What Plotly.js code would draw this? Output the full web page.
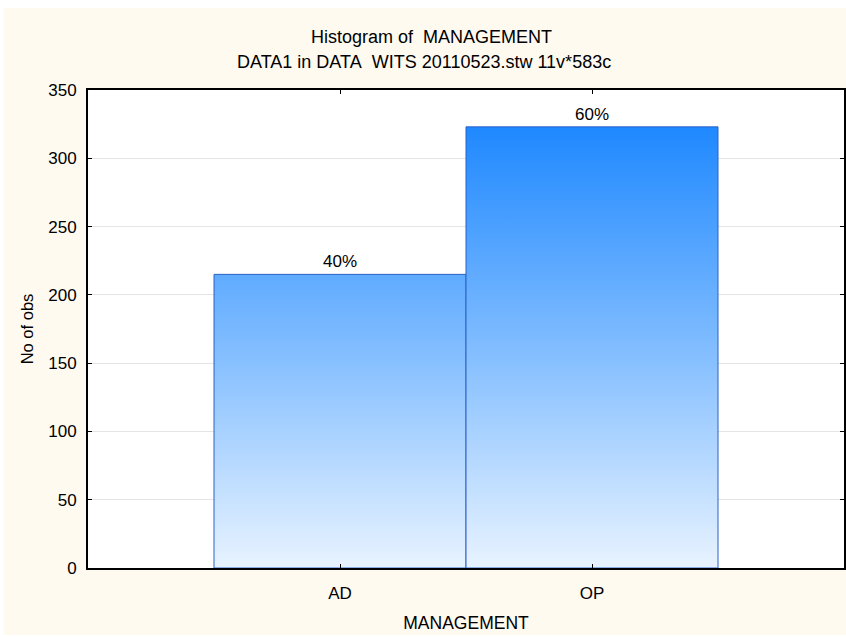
<!DOCTYPE html>
<html>
<head>
<meta charset="utf-8">
<script src="https://cdn.plot.ly/plotly-3.0.1.min.js"></script>
<style>
  html, body { margin: 0; padding: 0; background: #ffffff; width: 846px; height: 637px; overflow: hidden; }
  #chart { position: absolute; left: 4px; top: 8px; width: 842px; height: 627px; }
</style>
</head>
<body>
<div id="chart"></div>
<script>
// ---- data ----
const categories = ['AD', 'OP'];
const counts = [215, 323];
const pctLabels = ['40%', '60%'];
const yTickVals = [0, 50, 100, 150, 200, 250, 300, 350];
const titleLine1 = 'Histogram of&nbsp;&nbsp;MANAGEMENT';
const titleLine2 = 'DATA1 in DATA&nbsp;&nbsp;WITS 20110523.stw 11v*583c';
const xTitle = 'MANAGEMENT';
const yTitle = 'No of obs';

const FONT = 'Liberation Sans, Arial, sans-serif';

const trace = {
  type: 'bar',
  x: categories,
  y: counts,
  width: 1,
  text: pctLabels,
  textposition: 'outside',
  cliponaxis: false,
  textfont: { family: FONT, size: 17, color: '#000000' },
  marker: { color: '#5aa5ff', line: { color: '#2a62c8', width: 1 } },
  hoverinfo: 'none'
};

const layout = {
  width: 842,
  height: 627,
  margin: { l: 84, r: 2, t: 82, b: 67, pad: 0 },
  paper_bgcolor: '#fffaf0',
  plot_bgcolor: '#ffffff',
  bargap: 0,
  showlegend: false,
  font: { family: FONT, size: 17, color: '#000000' },
  xaxis: {
    type: 'category',
    range: [-1, 2],
    showline: true, linecolor: '#000000', linewidth: 2, mirror: 'ticks',
    ticks: 'inside', ticklen: 4, tickwidth: 1, tickcolor: '#000000',
    showgrid: false, zeroline: false,
    tickfont: { family: FONT, size: 17, color: '#000000' },
    ticklabelstandoff: 9,
    title: { text: xTitle, font: { family: FONT, size: 17.5, color: '#000000' }, standoff: 14 },
    automargin: false,
    fixedrange: true
  },
  yaxis: {
    range: [0, 350],
    tickvals: yTickVals,
    showline: true, linecolor: '#000000', linewidth: 2, mirror: 'ticks',
    ticks: 'inside', ticklen: 4, tickwidth: 1, tickcolor: '#000000',
    showgrid: true, gridcolor: '#e4e4e4', gridwidth: 1,
    zeroline: false,
    tickfont: { family: FONT, size: 17, color: '#000000' },
    ticklabelstandoff: 6,
    title: { text: yTitle, font: { family: FONT, size: 16.5, color: '#000000' }, standoff: 10 },
    automargin: false,
    fixedrange: true
  },
  annotations: [
    { text: titleLine1, xref: 'paper', yref: 'paper', x: 0.455, y: 1.11,
      xanchor: 'center', yanchor: 'middle', showarrow: false,
      font: { family: FONT, size: 18, color: '#000000' } },
    { text: titleLine2, xref: 'paper', yref: 'paper', x: 0.444, y: 1.0595,
      xanchor: 'center', yanchor: 'middle', showarrow: false,
      font: { family: FONT, size: 18, color: '#000000' } }
  ]
};

Plotly.newPlot('chart', [trace], layout, { displayModeBar: false, staticPlot: true }).then(function (gd) {
  // vertical blue gradient fill, in plot-area coordinates
  const H = gd._fullLayout._size.h;
  const svgNS = 'http://www.w3.org/2000/svg';
  const mainSvg = gd.querySelector('svg.main-svg');
  let defs = mainSvg.querySelector('defs');
  if (!defs) { defs = document.createElementNS(svgNS, 'defs'); mainSvg.insertBefore(defs, mainSvg.firstChild); }
  const grad = document.createElementNS(svgNS, 'linearGradient');
  grad.setAttribute('id', 'barGrad');
  grad.setAttribute('gradientUnits', 'userSpaceOnUse');
  grad.setAttribute('x1', '0'); grad.setAttribute('x2', '0');
  grad.setAttribute('y1', '0'); grad.setAttribute('y2', String(H));
  [['0', '#0f80ff'], ['0.5', '#78b8ff'], ['1', '#e8f3ff']].forEach(function (s) {
    const st = document.createElementNS(svgNS, 'stop');
    st.setAttribute('offset', s[0]);
    st.setAttribute('stop-color', s[1]);
    grad.appendChild(st);
  });
  defs.appendChild(grad);
  gd.querySelectorAll('.barlayer .point path').forEach(function (p) {
    p.style.fill = 'url(#barGrad)';
  });
});
</script>
</body>
</html>
